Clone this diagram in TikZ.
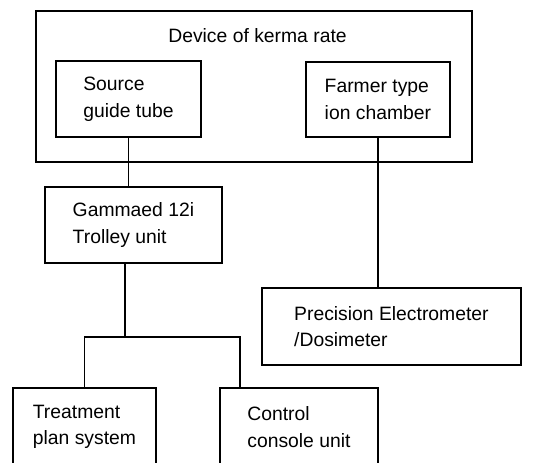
\documentclass[tikz,border=0pt]{standalone}
\usepackage{fontspec}
\setmainfont{Liberation Sans}
\usepackage{tikz}
\usetikzlibrary{positioning}
\tikzset{
  unitbox/.style={draw,line width=1.4pt,anchor=north west,align=left,inner sep=0pt,
    font=\fontsize{14.5}{20}\selectfont},
  wire/.style={line width=1.4pt}
}
\begin{document}
\begin{tikzpicture}[x=0.75pt,y=-0.75pt]
  \clip (0,0) rectangle (540,462);
  % measuring device with its two parts
  \node[unitbox,minimum width=327pt,minimum height=113.25pt] (kerma) at (35,10) {};
  \node[font=\fontsize{14.5}{20}\selectfont,anchor=base] (kermatitle) at (257.5,42) {Device of kerma rate};
  \node[unitbox,minimum width=108.75pt,minimum height=57pt] (source) at (55,60) {Source\\guide tube};
  \node[unitbox,minimum width=108pt,minimum height=56.25pt] (farmer) at (305,61) {Farmer type\\ion chamber};
  % afterloader and readout
  \node[unitbox,minimum width=132.75pt,minimum height=57pt] (gamma) at (44,186) {Gammaed 12i\\Trolley unit};
  \node[unitbox,minimum width=194.25pt,minimum height=57.75pt] (prec) at (261,287) {Precision Electrometer\\/Dosimeter};
  \node[unitbox,minimum width=107.25pt,minimum height=58.5pt] (treat) at (12,387) {Treatment\\plan system};
  \node[unitbox,minimum width=118.5pt,minimum height=58.5pt] (ctrl) at (219,387) {Control\\console unit};
  % connections
  \coordinate (split) at (125,337);
  \coordinate (ctrldrop) at (240,337);
  \draw[wire] (source.south) -- (source.south |- gamma.north);
  \draw[wire] (farmer.south) -- (farmer.south |- prec.north);
  \draw[wire] (split |- gamma.south) -- (split);
  \draw[wire] (treat.north) |- (ctrldrop) -- (ctrldrop |- ctrl.north);
\end{tikzpicture}
\end{document}
